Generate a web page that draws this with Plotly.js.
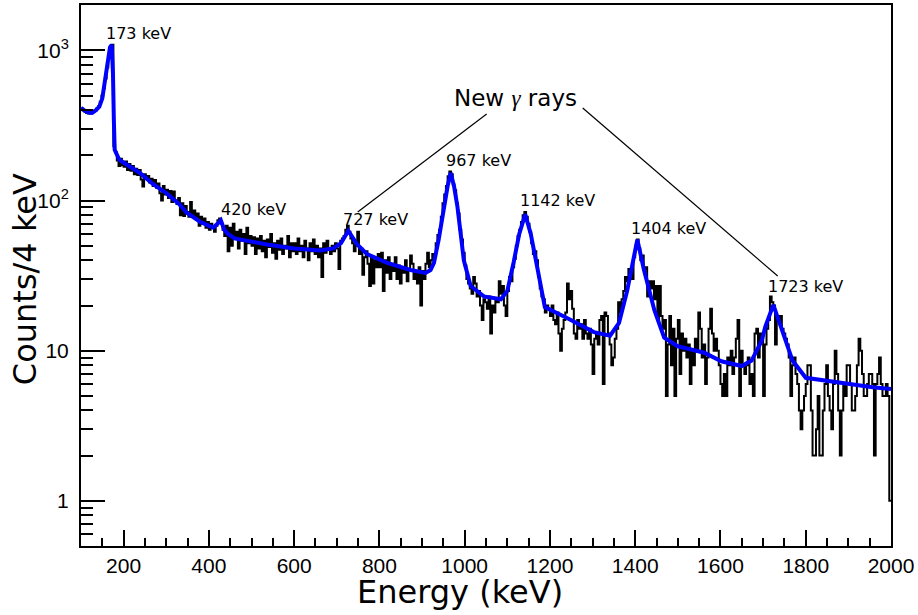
<!DOCTYPE html>
<html>
<head>
<meta charset="utf-8">
<script src="https://cdn.plot.ly/plotly-3.0.1.min.js"></script>
<style>html,body{margin:0;padding:0;background:#fff;}#chart{width:918px;height:615px;}</style>
</head>
<body>
<div id="chart"></div>
<script>
// Histogram: 4 keV bins from 100 to 2000 keV (475 bins), counts per bin
const binStart = 100;
const binWidth = 4;
const counts = [
  // 100-196
  410,398,390,384,380,382,384,390,398,410,425,455,500,560,650,770,910,1060,1090,230,210,185,170,190,172,
  // 200-296
  168,182,160,175,158,170,150,163,148,160,138,124,150,140,146,132,140,125,137,122,130,112,100,125,110,
  // 300-396
  118,104,116,98,115,100,95,104,80,96,79,92,84,78,98,80,86,76,82,68,78,70,76,66,72,
  // 400-496
  64,70,66,62,68,74,76,70,64,58,68,46,66,50,70,56,62,48,64,54,60,44,66,52,58,
  // 500-596
  50,57,44,56,48,58,46,54,42,55,49,60,45,52,41,54,47,56,44,50,48,58,42,52,46,
  // 600-696
  52,44,56,46,50,42,54,48,40,52,46,55,44,50,42,48,31,52,45,54,47,44,50,46,52,
  // 700-796
  48,35,54,56,58,64,68,62,56,52,46,50,62,44,48,32,42,46,38,27,42,28,40,36,44,
  // 800-896
  36,45,25,40,33,42,30,38,34,42,30,37,28,36,33,40,29,35,43,38,30,34,28,36,20,
  // 900-996
  34,30,38,45,36,40,44,42,52,59,64,78,96,110,125,145,156,150,128,117,96,82,64,55,45,
  // 1000-1096
  37,30,28,26,24,31,28,23,25,20,16,22,21,19,23,13,20,18,22,21,29,24,27,20,17,
  // 1100-1196
  25,31,29,36,41,50,58,64,72,80,84,78,70,62,52,44,46,40,31,26,23,22,18,20,19,
  // 1200-1296
  17,20,16,15,18,13,10,14,16,18,28,22,25,19,13,12,16,14,15,12,16,13,12,14,11,
  // 1300-1396
  7,12,13,11,16,17,6,18,17,13,11,8,9,12,14,21,18,22,25,31,29,35,33,30,42,
  // 1400-1496
  50,55,48,40,43,35,36,23,29,26,29,22,27,16,27,17,14,16,5,11,17,8,14,5,12,
  // 1500-1596
  16,7,13,10,12,9,11,6,10,8,12,10,18,14,9,11,6,9,14,19,13,10,12,10,8,
  // 1600-1696
  6,5,7,5,9,8,10,7,9,12,16,5,10,8,7,8,9,6,7,5,13,14,9,13,12,
  // 1700-1796
  5,11,14,16,23,21,20,11,17,16,17,14,13,12,11,9,5,8,9,7,6,4,3,4,5,
  // 1800-1896
  6,8,8,4,2,2,3,5,2,2,4,6,8,5,4,3,6,10,7,4,2,4,6,5,8,
  // 1900-1996
  8,6,4,4,5,8,12,10,7,5,5,6,7,7,6,2,6,7,9,6,5,5,6,5,1
];

// Fit curve (energy in keV, counts)
const fitE = [100,110,120,126,135,143,150,155,160,164,168,172,175,177,179,185,190,215,238,270,300,330,348,380,410,420,428,436,445,460,500,536,600,661,692,710,727,738,748,771,818,873,908,920,928,939,951,960,967,975,983,998,1014,1045,1085,1100,1115,1128,1142,1155,1171,1188,1240,1303,1341,1362,1381,1393,1405,1420,1445,1468,1500,1562,1602,1650,1673,1697,1705,1724,1746,1769,1800,1878,1957,2000];
const fitY = [415,395,385,384,400,422,480,590,740,880,1050,1090,700,350,218,200,187,168,153,128,112,95,83,72,66,70,74,64,60,56,53,51,48,46.5,48,52,63,56,51,44,38.5,34.5,33,34.5,38.5,55,91,125,153,125,91,40,27,23,22,25,39,60,81,60,35,19.5,16.5,13.3,12.6,15.3,25,38,55,35,18.6,12.2,10.7,9.7,8.5,7.9,8.6,11.7,14.4,20.2,13.1,8.6,6.6,6.1,5.7,5.56];

// Peak labels
const peakText = ["173 keV","420 keV","727 keV","967 keV","1142 keV","1404 keV","1723 keV"];
const peakLabelE = [235,504,791,1033,1218,1478,1800];
const peakLabelLogY = [3.111,1.939,1.876,2.266,1.999,1.813,1.430];

// Axis ticks
const yTickVals = [1,10,100,1000];
const yTickText = ["1","10","10<sup>2</sup>","10<sup>3</sup>"];
const yMinorVals = [0.6,0.7,0.8,0.9,2,3,4,5,6,7,8,9,20,30,40,50,60,70,80,90,200,300,400,500,600,700,800,900];

// Build step histogram from bin edges
const stepX = [], stepY = [];
for (let i = 0; i < counts.length; i++) {
  stepX.push(binStart + i * binWidth);
  stepY.push(counts[i]);
}
stepX.push(binStart + counts.length * binWidth);
stepY.push(counts[counts.length - 1]);

const traces = [
  {x: stepX, y: stepY, type: 'scatter', mode: 'lines', line: {shape: 'hv', color: '#000000', width: 2}, hoverinfo: 'skip'},
  {x: fitE, y: fitY, type: 'scatter', mode: 'lines', line: {color: '#0000ff', width: 4}, hoverinfo: 'skip'}
];

const annFont = {family: 'DejaVu Sans', size: 16, color: '#000'};
const annotations = peakText.map((t, i) => ({
  x: peakLabelE[i], y: peakLabelLogY[i], xref: 'x', yref: 'y', text: t,
  showarrow: false, xanchor: 'center', yanchor: 'middle', font: annFont
}));
annotations.push({
  x: 1120, y: 2.685, xref: 'x', yref: 'y',
  text: 'New <span style="font-family:\'Liberation Serif\'"><i>γ</i></span> rays',
  showarrow: false, xanchor: 'center', yanchor: 'middle',
  font: {family: 'DejaVu Sans', size: 23, color: '#000'}
});
annotations.push({
  x: 0.4675, y: -0.085, xref: 'paper', yref: 'paper', text: 'Energy (keV)',
  showarrow: false, xanchor: 'center', yanchor: 'middle',
  font: {family: 'DejaVu Sans', size: 32, color: '#000'}
});
annotations.push({
  x: -0.069, y: 0.4935, xref: 'paper', yref: 'paper', text: 'Counts/4 keV',
  showarrow: false, xanchor: 'center', yanchor: 'middle', textangle: -90,
  font: {family: 'DejaVu Sans', size: 32, color: '#000'}
});

const layout = {
  width: 918, height: 615,
  margin: {l: 81, r: 27, t: 5, b: 69, pad: 0},
  paper_bgcolor: '#fff', plot_bgcolor: '#fff',
  showlegend: false,
  xaxis: {
    range: [100, 2000], tick0: 0, dtick: 200, ticks: 'inside', ticklen: 16, tickwidth: 2, tickcolor: '#000',
    showline: true, linecolor: '#000', linewidth: 2, mirror: true, showgrid: false, zeroline: false,
    tickfont: {family: 'Liberation Sans', size: 21, color: '#000'},
    minor: {dtick: 50, ticks: 'inside', ticklen: 8, tickwidth: 2, tickcolor: '#000', showgrid: false}
  },
  yaxis: {
    type: 'log', range: [Math.log10(0.5), 3.303],
    tickmode: 'array', tickvals: yTickVals, ticktext: yTickText,
    ticks: 'inside', ticklen: 24, tickwidth: 2, tickcolor: '#000',
    showline: true, linecolor: '#000', linewidth: 2, mirror: true, showgrid: false, zeroline: false,
    tickfont: {family: 'Liberation Sans', size: 21, color: '#000'},
    ticklabelstandoff: 6,
    minor: {tickmode: 'array', tickvals: yMinorVals, ticks: 'inside', ticklen: 12, tickwidth: 2, tickcolor: '#000', showgrid: false}
  },
  shapes: [
    {type: 'line', xref: 'paper', yref: 'paper', x0: 0.5008, y0: 0.7985, x1: 0.3416, y1: 0.6174, line: {color: '#000', width: 1.2}},
    {type: 'line', xref: 'paper', yref: 'paper', x0: 0.6194, y0: 0.8096, x1: 0.8601, y1: 0.4991, line: {color: '#000', width: 1.2}}
  ],
  annotations: annotations
};

Plotly.newPlot('chart', traces, layout, {displayModeBar: false, staticPlot: true});
</script>
</body>
</html>
